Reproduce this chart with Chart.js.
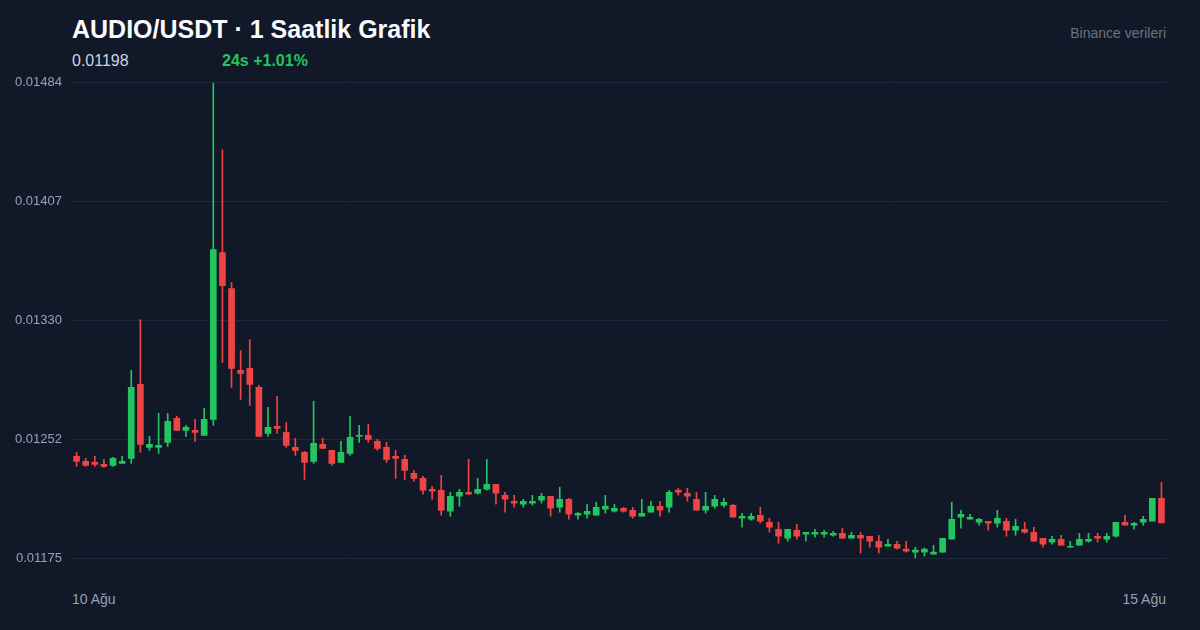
<!DOCTYPE html>
<html lang="tr">
<head>
<meta charset="utf-8">
<title>AUDIO/USDT</title>
<script src="https://cdn.jsdelivr.net/npm/chart.js@4.4.1/dist/chart.umd.min.js"></script>
<style>
  html, body {
    margin: 0;
    padding: 0;
    background: #111827;
    font-family: "Liberation Sans", Arial, Helvetica, sans-serif;
  }
  .wrap {
    position: relative;
    width: 1200px;
    height: 630px;
    overflow: hidden;
  }
  .title {
    position: absolute;
    left: 72px;
    top: 17px;
    font-size: 25px;
    line-height: 25px;
    font-weight: bold;
    color: #f9fafb;
  }
  .source {
    position: absolute;
    right: 34px;
    top: 26px;
    font-size: 14px;
    line-height: 14px;
    color: #6b7280;
  }
  .price {
    position: absolute;
    left: 72px;
    top: 53px;
    font-size: 16px;
    line-height: 16px;
    color: #cbd5e1;
  }
  .change {
    position: absolute;
    left: 222px;
    top: 53px;
    font-size: 16px;
    line-height: 16px;
    font-weight: bold;
    color: #22c55e;
  }
  .date {
    position: absolute;
    top: 592px;
    font-size: 14px;
    line-height: 14px;
    color: #94a3b8;
  }
  #chart-box {
    position: absolute;
    left: 0;
    top: 65px;
    width: 1200px;
    height: 511px;
  }
</style>
</head>
<body>
<div class="wrap">
  <div class="title">AUDIO/USDT · 1 Saatlik Grafik</div>
  <div class="source">Binance verileri</div>
  <div class="price" id="last-price"></div>
  <div class="change" id="change-24h"></div>
  <div class="date" id="date-start" style="left:72px;"></div>
  <div class="date" id="date-end" style="right:34px;"></div>
  <div id="chart-box"><canvas id="candles"></canvas></div>
</div>

<script>
// Hourly candles, 10 Ağu -> 15 Ağu
const openPrices = [
  0.0124121, 0.0123797, 0.0123732, 0.0123602, 0.0123537, 0.0123667, 0.0123992, 0.0128795, 0.0124706, 0.0124706,
  0.0125031, 0.0126589, 0.0125810, 0.0125810, 0.0125485, 0.0126524, 0.0137364, 0.0135027, 0.0129704, 0.0129834,
  0.0128600, 0.0125615, 0.0126070, 0.0125680, 0.0124706, 0.0124381, 0.0123797, 0.0124901, 0.0124511, 0.0123732,
  0.0124316, 0.0125420, 0.0125485, 0.0125096, 0.0124706, 0.0124121, 0.0123927, 0.0123018, 0.0122693, 0.0121980,
  0.0121915, 0.0120551, 0.0121525, 0.0121785, 0.0121720, 0.0121980, 0.0122304, 0.0121590, 0.0121200, 0.0121005,
  0.0121070, 0.0121265, 0.0121525, 0.0120811, 0.0121330, 0.0120292, 0.0120357, 0.0120292, 0.0120681, 0.0120551,
  0.0120746, 0.0120616, 0.0120227, 0.0120486, 0.0120876, 0.0120811, 0.0121915, 0.0121720, 0.0121330, 0.0120616,
  0.0120876, 0.0120941, 0.0120941, 0.0120097, 0.0120032, 0.0120292, 0.0119837, 0.0119383, 0.0118799, 0.0119318,
  0.0119059, 0.0119059, 0.0119059, 0.0118994, 0.0119124, 0.0118799, 0.0118994, 0.0118929, 0.0118604, 0.0118279,
  0.0118409, 0.0118085, 0.0117890, 0.0117890, 0.0117760, 0.0117890, 0.0118734, 0.0120162, 0.0120032, 0.0119837,
  0.0119902, 0.0119772, 0.0119902, 0.0119318, 0.0119383, 0.0119189, 0.0118799, 0.0118539, 0.0118734, 0.0118214,
  0.0118344, 0.0118604, 0.0118929, 0.0118734, 0.0118929, 0.0119837, 0.0119643, 0.0119837, 0.0119902, 0.0121395
];

const highPrices = [
  0.0124381, 0.0123992, 0.0124121, 0.0123927, 0.0124056, 0.0124121, 0.0129704, 0.0133015, 0.0125420, 0.0126913,
  0.0126913, 0.0126718, 0.0126134, 0.0126524, 0.0127238, 0.0148400, 0.0144049, 0.0135416, 0.0131002, 0.0131716,
  0.0128730, 0.0127303, 0.0128016, 0.0126329, 0.0125290, 0.0124446, 0.0127692, 0.0125290, 0.0124511, 0.0125096,
  0.0126718, 0.0126134, 0.0126199, 0.0125225, 0.0125031, 0.0124511, 0.0124187, 0.0123213, 0.0122823, 0.0122174,
  0.0122888, 0.0121785, 0.0121980, 0.0123927, 0.0122693, 0.0123927, 0.0122304, 0.0121785, 0.0121590, 0.0121330,
  0.0121590, 0.0121720, 0.0121525, 0.0122109, 0.0121395, 0.0120486, 0.0121005, 0.0121135, 0.0121590, 0.0121005,
  0.0120811, 0.0120811, 0.0121330, 0.0121200, 0.0121200, 0.0121915, 0.0122044, 0.0122044, 0.0121785, 0.0121785,
  0.0121590, 0.0121395, 0.0121005, 0.0120422, 0.0120422, 0.0120811, 0.0120097, 0.0119837, 0.0119383, 0.0119707,
  0.0119189, 0.0119383, 0.0119318, 0.0119254, 0.0119448, 0.0119189, 0.0119189, 0.0118929, 0.0118994, 0.0118734,
  0.0118604, 0.0118604, 0.0118214, 0.0118150, 0.0118344, 0.0118799, 0.0121135, 0.0120616, 0.0120357, 0.0120097,
  0.0119902, 0.0120616, 0.0120097, 0.0120032, 0.0119837, 0.0119513, 0.0118799, 0.0118929, 0.0118994, 0.0118604,
  0.0119124, 0.0119124, 0.0119124, 0.0119124, 0.0119837, 0.0120292, 0.0119837, 0.0120227, 0.0121395, 0.0122434
];

const lowPrices = [
  0.0123472, 0.0123472, 0.0123472, 0.0123407, 0.0123472, 0.0123667, 0.0123667, 0.0124381, 0.0124511, 0.0124316,
  0.0124771, 0.0125810, 0.0125420, 0.0125096, 0.0125485, 0.0126134, 0.0130224, 0.0128600, 0.0127822, 0.0127432,
  0.0125420, 0.0125420, 0.0125615, 0.0124706, 0.0124187, 0.0122628, 0.0123667, 0.0124641, 0.0123537, 0.0123732,
  0.0124187, 0.0125031, 0.0125031, 0.0124511, 0.0123732, 0.0122693, 0.0122628, 0.0122499, 0.0121655, 0.0121330,
  0.0120292, 0.0120227, 0.0120876, 0.0121655, 0.0121655, 0.0121915, 0.0121005, 0.0120486, 0.0120811, 0.0120811,
  0.0120941, 0.0121070, 0.0120227, 0.0120486, 0.0120032, 0.0120032, 0.0120097, 0.0120292, 0.0120422, 0.0120486,
  0.0120486, 0.0120097, 0.0120227, 0.0120486, 0.0120227, 0.0120486, 0.0121590, 0.0121200, 0.0120616, 0.0120422,
  0.0120746, 0.0120811, 0.0120162, 0.0119513, 0.0119967, 0.0119772, 0.0119189, 0.0118474, 0.0118604, 0.0118734,
  0.0118604, 0.0118864, 0.0118864, 0.0118929, 0.0118799, 0.0118799, 0.0117825, 0.0118214, 0.0117825, 0.0118279,
  0.0118085, 0.0117890, 0.0117500, 0.0117630, 0.0117760, 0.0117890, 0.0118734, 0.0119448, 0.0120032, 0.0119643,
  0.0119318, 0.0119513, 0.0118929, 0.0118994, 0.0119124, 0.0118604, 0.0118214, 0.0118409, 0.0118344, 0.0118214,
  0.0118344, 0.0118539, 0.0118539, 0.0118539, 0.0118864, 0.0119643, 0.0119383, 0.0119643, 0.0119902, 0.0119800
];

const closePrices = [
  0.0123797, 0.0123537, 0.0123602, 0.0123472, 0.0123992, 0.0123797, 0.0128600, 0.0124901, 0.0124901, 0.0124836,
  0.0126394, 0.0125810, 0.0126005, 0.0125680, 0.0126524, 0.0137559, 0.0135222, 0.0129834, 0.0129509, 0.0128795,
  0.0125420, 0.0126005, 0.0125940, 0.0124836, 0.0124511, 0.0123732, 0.0124966, 0.0124641, 0.0123667, 0.0124381,
  0.0125355, 0.0125485, 0.0125225, 0.0124641, 0.0123927, 0.0123992, 0.0123213, 0.0122693, 0.0121915, 0.0121850,
  0.0120616, 0.0121525, 0.0121785, 0.0121655, 0.0121980, 0.0122304, 0.0121720, 0.0121330, 0.0121070, 0.0121200,
  0.0121200, 0.0121525, 0.0120746, 0.0121330, 0.0120357, 0.0120422, 0.0120551, 0.0120811, 0.0120876, 0.0120746,
  0.0120551, 0.0120227, 0.0120422, 0.0120876, 0.0120616, 0.0121785, 0.0121785, 0.0121525, 0.0120616, 0.0120876,
  0.0121330, 0.0121135, 0.0120162, 0.0120227, 0.0120227, 0.0119902, 0.0119513, 0.0118929, 0.0119383, 0.0118929,
  0.0119189, 0.0119189, 0.0119189, 0.0119124, 0.0118799, 0.0118994, 0.0118799, 0.0118604, 0.0118214, 0.0118409,
  0.0118150, 0.0117955, 0.0118020, 0.0118085, 0.0117890, 0.0118799, 0.0120032, 0.0120357, 0.0120162, 0.0120032,
  0.0119772, 0.0120097, 0.0119318, 0.0119578, 0.0119189, 0.0118604, 0.0118409, 0.0118734, 0.0118344, 0.0118279,
  0.0118734, 0.0118734, 0.0118799, 0.0118929, 0.0119837, 0.0119643, 0.0119772, 0.0120032, 0.0121395, 0.0119800
];

const yTickValues = [0.01175, 0.0125225, 0.013295, 0.0140675, 0.01484];
const yTickLabels = ['0.01175', '0.01252', '0.01330', '0.01407', '0.01484'];
const dateLabels = ['10 Ağu', '15 Ağu'];

const lastPrice = '0.01198';
const change24h = '24s +1.01%';

const UP = '#22c55e';
const DOWN = '#ef4444';

document.getElementById('last-price').textContent = lastPrice;
document.getElementById('change-24h').textContent = change24h;
document.getElementById('date-start').textContent = dateLabels[0];
document.getElementById('date-end').textContent = dateLabels[1];

const hours = openPrices.map((_, i) => i);
const candleColors = closePrices.map((c, i) => c >= openPrices[i] ? UP : DOWN);

new Chart(document.getElementById('candles'), {
  type: 'bar',
  data: {
    labels: hours,
    datasets: [
      {
        // bodies
        data: openPrices.map((o, i) => [o, closePrices[i]]),
        backgroundColor: candleColors,
        barThickness: 6,
        grouped: false,
        order: 0
      },
      {
        // wicks
        data: lowPrices.map((l, i) => [l, highPrices[i]]),
        backgroundColor: candleColors,
        barThickness: 1,
        grouped: false,
        order: 1
      }
    ]
  },
  options: {
    responsive: true,
    maintainAspectRatio: false,
    animation: false,
    layout: {
      padding: { top: 7, bottom: 6, left: 0, right: 34 }
    },
    plugins: {
      legend: { display: false },
      tooltip: { enabled: false }
    },
    scales: {
      x: {
        display: false,
        offset: true
      },
      y: {
        min: yTickValues[0],
        max: yTickValues[yTickValues.length - 1],
        afterBuildTicks: axis => {
          axis.ticks = yTickValues.map(v => ({ value: v }));
        },
        afterFit: axis => {
          axis.width = 72;
        },
        ticks: {
          padding: 10,
          color: '#94a3b8',
          font: { family: '"Liberation Sans", Arial, sans-serif', size: 13 },
          callback: (value, index) => yTickLabels[index]
        },
        grid: {
          color: '#1e293b',
          drawTicks: false
        },
        border: { display: false }
      }
    }
  }
});
</script>
</body>
</html>
